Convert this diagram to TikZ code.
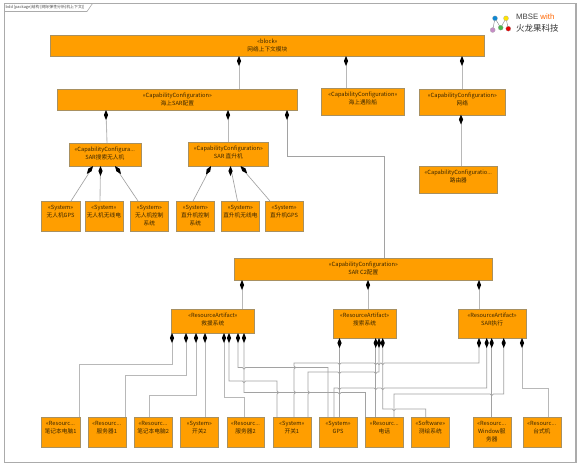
\documentclass[tikz,border=0pt]{standalone}
\usepackage{fontspec}
\setmainfont{Noto Sans CJK SC}
\newfontfamily\lat{Liberation Sans}
\definecolor{boxfill}{HTML}{FF9E00}
\definecolor{boxline}{HTML}{A89060}
\definecolor{wire}{HTML}{B8B8B8}
\definecolor{framec}{HTML}{ABABAB}
\definecolor{txt}{HTML}{3A2600}
\tikzset{
  ubox/.style={draw=boxline,line width=.7pt,fill=boxfill,inner sep=0pt},
  utext/.style={inner sep=0pt,anchor=north,align=center,text=txt,font=\fontsize{5.7}{8}\selectfont},
  wirepath/.style={draw=wire,line width=.85pt},
  thin wire/.style={draw=wire!88!black,line width=.65pt},
  dia/.style={fill=black,draw=none}
}
\newcommand{\ub}[6]{%
  \pgfmathsetmacro{\uw}{#4-#2}\pgfmathsetmacro{\uh}{#5-#3}%
  \node[ubox,minimum width=\uw pt,minimum height=\uh pt,anchor=north west] (#1) at (#2,#3) {};
  \node[utext] (#1t) at ([yshift=-2.6pt]#1.north) {\rule{0pt}{5.5pt}#6};}
\newcommand{\dm}[2]{\fill[dia] (#1,#2) -- ++(2.1,5) -- ++(-2.1,5) -- ++(-2.1,-5) -- cycle;}
% hops: left-to-right, right-to-left, and downward
\newcommand{\hh}[2]{ -- (#1-1.6,#2) arc[start angle=180,end angle=0,radius=1.6] }
\newcommand{\rh}[2]{ -- (#1+1.6,#2) arc[start angle=0,end angle=180,radius=1.6] }
\newcommand{\vh}[2]{ -- (#1,#2-1.6) arc[start angle=-90,end angle=90,radius=1.6] }
\begin{document}
\begin{tikzpicture}[x=1pt,y=-1pt]
\useasboundingbox (0,0) rectangle (581,467);
\fill[white] (0,0) rectangle (581,467);
% frame
\draw[framec,line width=1.1pt] (4.5,3.5) rectangle (576,462.5);
\draw[framec,line width=.6pt] (4.5,11.5) -- (87,11.5) -- (92.5,3.5);
\node[anchor=west,inner sep=0pt,text=black!70,font=\fontsize{3.9}{4}\selectfont] (title) at (5.5,7.3) {bdd [package]结构 [网际弹性分析(机上下文)]};
% logo
\node[anchor=west,inner sep=0pt,font=\lat\fontsize{7.8}{9}\selectfont,text=black!75] (logoa) at (516,16.7) {MBSE \textcolor{orange!80!red}{with}};
\node[anchor=west,inner sep=0pt,font=\fontsize{8.5}{9}\selectfont,text=black!80] (logob) at (516,28.3) {火龙果科技};
\draw[black!50,line width=.4pt] (492.7,30)--(495,18.3)--(500.7,27.7)--(506,18.3)--(508.3,28.7);
\foreach \lx/\ly/\lc in {495/18.3/cyan!70!blue,506/18.3/yellow!85!orange,492.7/30/violet!45,500.7/27.7/green!60!black!70!white,508.3/28.7/red!90!black}{
  \fill[\lc,draw=black!35,line width=.2pt] (\lx,\ly) circle (2.5);}
% boxes
\ub{top}{50}{35}{484}{56}{«block»\\网络上下文模块}
\ub{sar}{57}{89}{297}{110}{«CapabilityConfiguration»\\海上SAR配置}
\ub{ship}{321}{88}{404}{115}{«CapabilityConfiguration»\\海上遇险船}
\ub{net}{419}{89}{505}{114.5}{«CapabilityConfiguration»\\网络}
\ub{router}{419}{166}{497}{192.5}{«CapabilityConfiguratio...\\路由器}
\ub{uav}{68.5}{143}{140.5}{166}{«CapabilityConfigura...\\SAR搜索无人机}
\ub{heli}{188}{142}{268}{166}{«CapabilityConfiguration»\\SAR 直升机}
\ub{s1}{41}{201}{79.5}{231}{«System»\\无人机GPS}
\ub{s2}{84.5}{201}{122.5}{231}{«System»\\无人机无线电}
\ub{s3}{130}{201}{168}{231}{«System»\\无人机控制\\系统}
\ub{s4}{176}{201}{214}{231}{«System»\\直升机控制\\系统}
\ub{s5}{221}{201}{259}{231}{«System»\\直升机无线电}
\ub{s6}{264.5}{201}{303}{231}{«System»\\直升机GPS}
\ub{c2}{234}{258}{492}{280}{«CapabilityConfiguration»\\SAR C2配置}
\ub{rescue}{171}{309}{254}{333}{«ResourceArtifact»\\救援系统}
\ub{search}{332.5}{309}{396}{338}{«ResourceArtifact»\\搜索系统}
\ub{exec}{457.5}{309}{526}{338}{«ResourceArtifact»\\SAR执行}
\ub{b1}{41}{417}{79.5}{447}{«Resourc...\\笔记本电脑1}
\ub{b2}{87.5}{417}{125.5}{447}{«Resourc...\\服务器1}
\ub{b3}{133.5}{417}{172}{447}{«Resourc...\\笔记本电脑2}
\ub{b4}{180}{417}{218}{447}{«System»\\开关2}
\ub{b5}{226.5}{417}{264}{447}{«Resourc...\\服务器2}
\ub{b6}{272.5}{417}{310.5}{447}{«System»\\开关1}
\ub{b7}{319}{417}{356.5}{447}{«System»\\GPS}
\ub{b8}{365}{417}{403}{447}{«Resourc...\\电话}
\ub{b9}{411}{417}{449}{447}{«Software»\\测绘系统}
\ub{b10}{472.5}{417}{510.5}{447}{«Resourc...\\Window服\\务器}
\ub{b11}{522.5}{417}{560.5}{447}{«Resourc...\\台式机}
% upper connectors
\draw[wirepath] (239,0 |- top.south) -- (239,0 |- sar.north);
\draw[wirepath] (346,0 |- top.south) -- (346,0 |- ship.north);
\draw[wirepath] (462,0 |- top.south) -- (462,0 |- net.north);
\draw[wirepath] (461,0 |- net.south) -- (461,0 |- router.north);
\draw[wirepath] (106,0 |- sar.south) -- (107,0 |- uav.north);
\draw[wirepath] (228,0 |- sar.south) -- (228,0 |- heli.north);
\draw[thin wire] (287,0 |- sar.south) |- (384,156) -- (384,0 |- c2.north);
\draw[thin wire] (93,0 |- uav.south) -- (71,0 |- s1.north);
\draw[wirepath] (100.5,0 |- uav.south) -- (100,0 |- s2.north);
\draw[thin wire] (115,0 |- uav.south) -- (138,0 |- s3.north);
\draw[thin wire] (211,0 |- heli.south) -- (193,0 |- s4.north);
\draw[thin wire] (230.5,0 |- heli.south) -- (237.5,0 |- s5.north);
\draw[thin wire] (240.5,0 |- heli.south) -- (270,0 |- s6.north);
\draw[wirepath] (242,0 |- c2.south) -- (242,0 |- rescue.north);
\draw[wirepath] (368,0 |- c2.south) -- (368,0 |- search.north);
\draw[wirepath] (479,0 |- c2.south) -- (479,0 |- exec.north);
% rescue system
\draw[wirepath] (172,0 |- rescue.south) |- (79,364) -- (79,0 |- b1.north);
\draw[wirepath] (186,0 |- rescue.south) |- (125,375) -- (125,0 |- b2.north);
\draw[wirepath] (196,0 |- rescue.south) |- (149,395) -- (149,0 |- b3.north);
\draw[wirepath] (205,0 |- rescue.south) -- (205,0 |- b4.north);
\draw[wirepath] (224,0 |- rescue.south) |- (244,397) -- (244,0 |- b5.north);
\draw[thin wire] (229,0 |- rescue.south) -- (229,381) \hh{244}{381} -- (277,381) \vh{277}{392.5} -- (277,0 |- b6.north);
\draw[thin wire] (238,0 |- rescue.south) -- (238,367.5) \hh{244}{367.5} -- (328,367.5) -- (328,0 |- b7.north);
\draw[thin wire] (244,0 |- rescue.south) -- (244,392.5) \hh{339.5}{392.5} -- (365.5,392.5) -- (365.5,0 |- b8.north);
% search system
\draw[thin wire] (339.5,0 |- search.south) -- (339.5,0 |- b7.north);
\draw[thin wire] (375.7,0 |- search.south) -- (375.7,0 |- b8.north);
\draw[thin wire] (379,0 |- search.south) -- (379,372) \rh{375.7}{372} \rh{339.5}{372} -- (308,372) \vh{308}{392.5} -- (308,0 |- b6.north);
\draw[thin wire] (382.7,0 |- search.south) -- (382.7,409) \hh{394}{409} -- (425.7,409) -- (425.7,0 |- b9.north);
% execution
\draw[thin wire] (479,0 |- exec.south) -- (479,363) \rh{382.7}{363} \rh{379}{363} \rh{375.7}{363} \rh{339.5}{363} -- (294,363) \vh{294}{367.5} \vh{294}{392.5} -- (294,0 |- b6.north);
\draw[thin wire] (486.7,0 |- exec.south) -- (486.7,388) \rh{382.7}{388} \rh{375.7}{388} \rh{339.5}{388} -- (334,388) -- (334,0 |- b7.north);
\draw[thin wire] (491.7,0 |- exec.south) -- (491.7,0 |- b10.north);
\draw[thin wire] (503.7,0 |- exec.south) -- (503.7,394) \rh{491.7}{394} -- (394,394) -- (394,0 |- b8.north);
\draw[wirepath] (522,0 |- exec.south) |- (548,388) -- (548,0 |- b11.north);
% diamonds
\dm{239}{56}\dm{346}{56}\dm{462}{56}\dm{461}{114.5}
\dm{106}{110}\dm{228}{110}\dm{287}{110}
\dm{100.5}{166}\dm{230.5}{166}
\dm{242}{280}\dm{368}{280}\dm{479}{280}
\foreach \px/\py/\ang in {93/166/-38,115/166/37,211/166/-30,240.5/166/42}{
 \fill[dia,shift={(\px,\py)},rotate=\ang] (0,0) -- (2.1,5) -- (0,10) -- (-2.1,5) -- cycle;}
\foreach \px in {172,186,196,205,224,229,238,244}{\dm{\px}{333}}
\foreach \px in {339.5,375.7,379,382.7}{\dm{\px}{338}}
\foreach \px in {479,486.7,491.7,503.7,522}{\dm{\px}{338}}
\end{tikzpicture}
\end{document}
